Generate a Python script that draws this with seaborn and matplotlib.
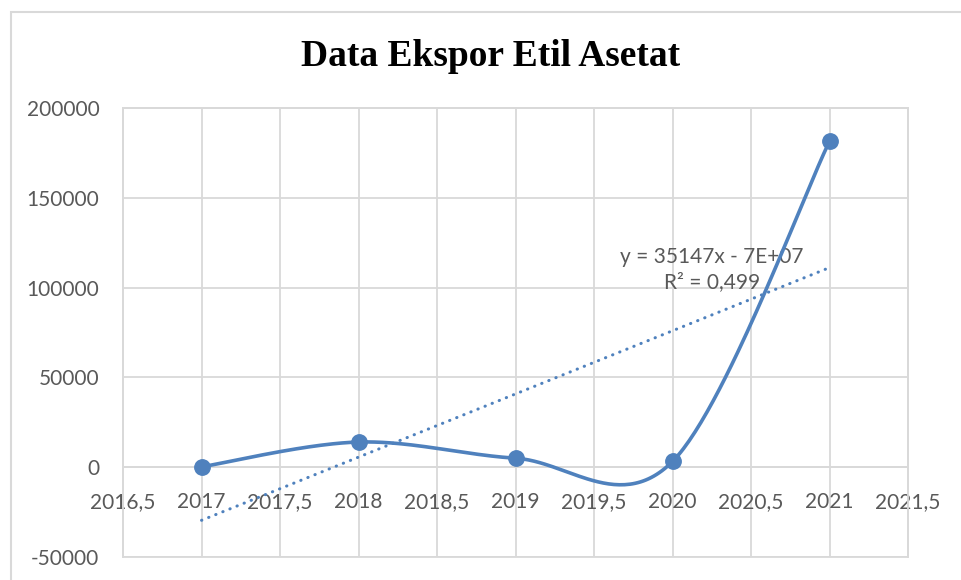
import numpy as np
import pandas as pd
import matplotlib
matplotlib.use('Agg')
import matplotlib.pyplot as plt
import seaborn as sns
from matplotlib.patches import Rectangle

# Data
years = [2017, 2018, 2019, 2020, 2021]
ekspor = [200, 14000, 5000, 3200, 181500]
x_ticks = [2016.5, 2017, 2017.5, 2018, 2018.5, 2019, 2019.5, 2020, 2020.5, 2021, 2021.5]
x_labels = ['2016,5', '2017', '2017,5', '2018', '2018,5', '2019', '2019,5', '2020', '2020,5', '2021', '2021,5']
y_ticks = [-50000, 0, 50000, 100000, 150000, 200000]
title = 'Data Ekspor Etil Asetat'
trend_label = 'y = 35147x - 7E+07\nR² = 0,499'

blue = '#4F81BD'
grid_gray = '#D9D9D9'
text_gray = '#595959'

df = pd.DataFrame({'Tahun': years, 'Ekspor': ekspor})


def excel_smooth(xs, ys, n=60):
    # Excel-style smoothed line: cubic Bezier, control points from neighbours
    px = np.asarray(xs, dtype=float)
    py = np.asarray(ys, dtype=float)
    ex = np.concatenate([[px[0]], px, [px[-1]]])
    ey = np.concatenate([[py[0]], py, [py[-1]]])
    out_x, out_y = [], []
    t = np.linspace(0, 1, n)
    for i in range(len(px) - 1):
        p0 = np.array([ex[i + 1], ey[i + 1]])
        p3 = np.array([ex[i + 2], ey[i + 2]])
        c1 = p0 + (p3 - np.array([ex[i], ey[i]])) / 6
        c2 = p3 - (np.array([ex[i + 3], ey[i + 3]]) - p0) / 6
        for tt in t:
            pt = ((1 - tt) ** 3) * p0 + 3 * ((1 - tt) ** 2) * tt * c1 + 3 * (1 - tt) * tt ** 2 * c2 + tt ** 3 * p3
            out_x.append(pt[0])
            out_y.append(pt[1])
    return pd.DataFrame({'x': out_x, 'y': out_y})


sns.set_style('white')
plt.rcParams['font.family'] = ['Lato', 'DejaVu Sans']
plt.rcParams['axes.unicode_minus'] = False

fig = plt.figure(figsize=(9.62, 5.8), dpi=100)
ax = fig.add_axes([0.1279, 0.0397, 0.8160, 0.7741])

# chart-area border (cut off at right and bottom like the screenshot)
fig.patches.append(Rectangle((11 / 962, -0.1), 1.2, 1 - 12 / 580 + 0.1, transform=fig.transFigure,
                             fill=False, ec=grid_gray, lw=1.5))

# linear trendline from the data
coef = np.polyfit(years, ekspor, 1)
trend_x = np.array([years[0], years[-1]])
trend = pd.DataFrame({'x': trend_x, 'y': np.polyval(coef, trend_x)})

smooth = excel_smooth(years, ekspor)
sns.lineplot(data=smooth, x='x', y='y', sort=False, color=blue, lw=2.6, ax=ax, zorder=4)
sns.scatterplot(data=df, x='Tahun', y='Ekspor', color=blue, s=125, edgecolor=blue, ax=ax, zorder=5)
ax.plot(trend['x'], trend['y'], color=blue, lw=2.2, linestyle=(0, (0.1, 2.4)),
        dash_capstyle='round', zorder=3)

ax.set_xlim(2016.5, 2021.5)
ax.set_ylim(-50000, 200000)
ax.set_xticks(x_ticks)
ax.set_xticklabels(x_labels)
ax.set_yticks(y_ticks)
ax.set_xlabel('')
ax.set_ylabel('')
ax.grid(True, color=grid_gray, lw=1.3)
ax.set_axisbelow(True)

for s in ['top', 'left', 'right']:
    ax.spines[s].set_color(grid_gray)
    ax.spines[s].set_linewidth(1.3)
ax.spines['bottom'].set_position(('data', 0))
ax.spines['bottom'].set_color(grid_gray)
ax.spines['bottom'].set_linewidth(1.3)
ax.add_patch(Rectangle((0, 0), 1, 1, transform=ax.transAxes, fill=False,
                       ec=grid_gray, lw=1.3, clip_on=False, zorder=0))

ax.tick_params(axis='both', length=0, labelsize=15, labelcolor=text_gray)
ax.tick_params(axis='y', pad=17)
ax.tick_params(axis='x', pad=18)

ax.text(0.75, 0.64, trend_label, transform=ax.transAxes, ha='center', va='center',
        fontsize=15, color=text_gray, linespacing=1.3, zorder=2)

fig.text(0.51, 0.903, title, ha='center', va='center', fontsize=27, fontweight='bold',
         family=['Liberation Serif', 'DejaVu Serif'], color='black')

plt.savefig('out.png', dpi=100)
plt.close()
